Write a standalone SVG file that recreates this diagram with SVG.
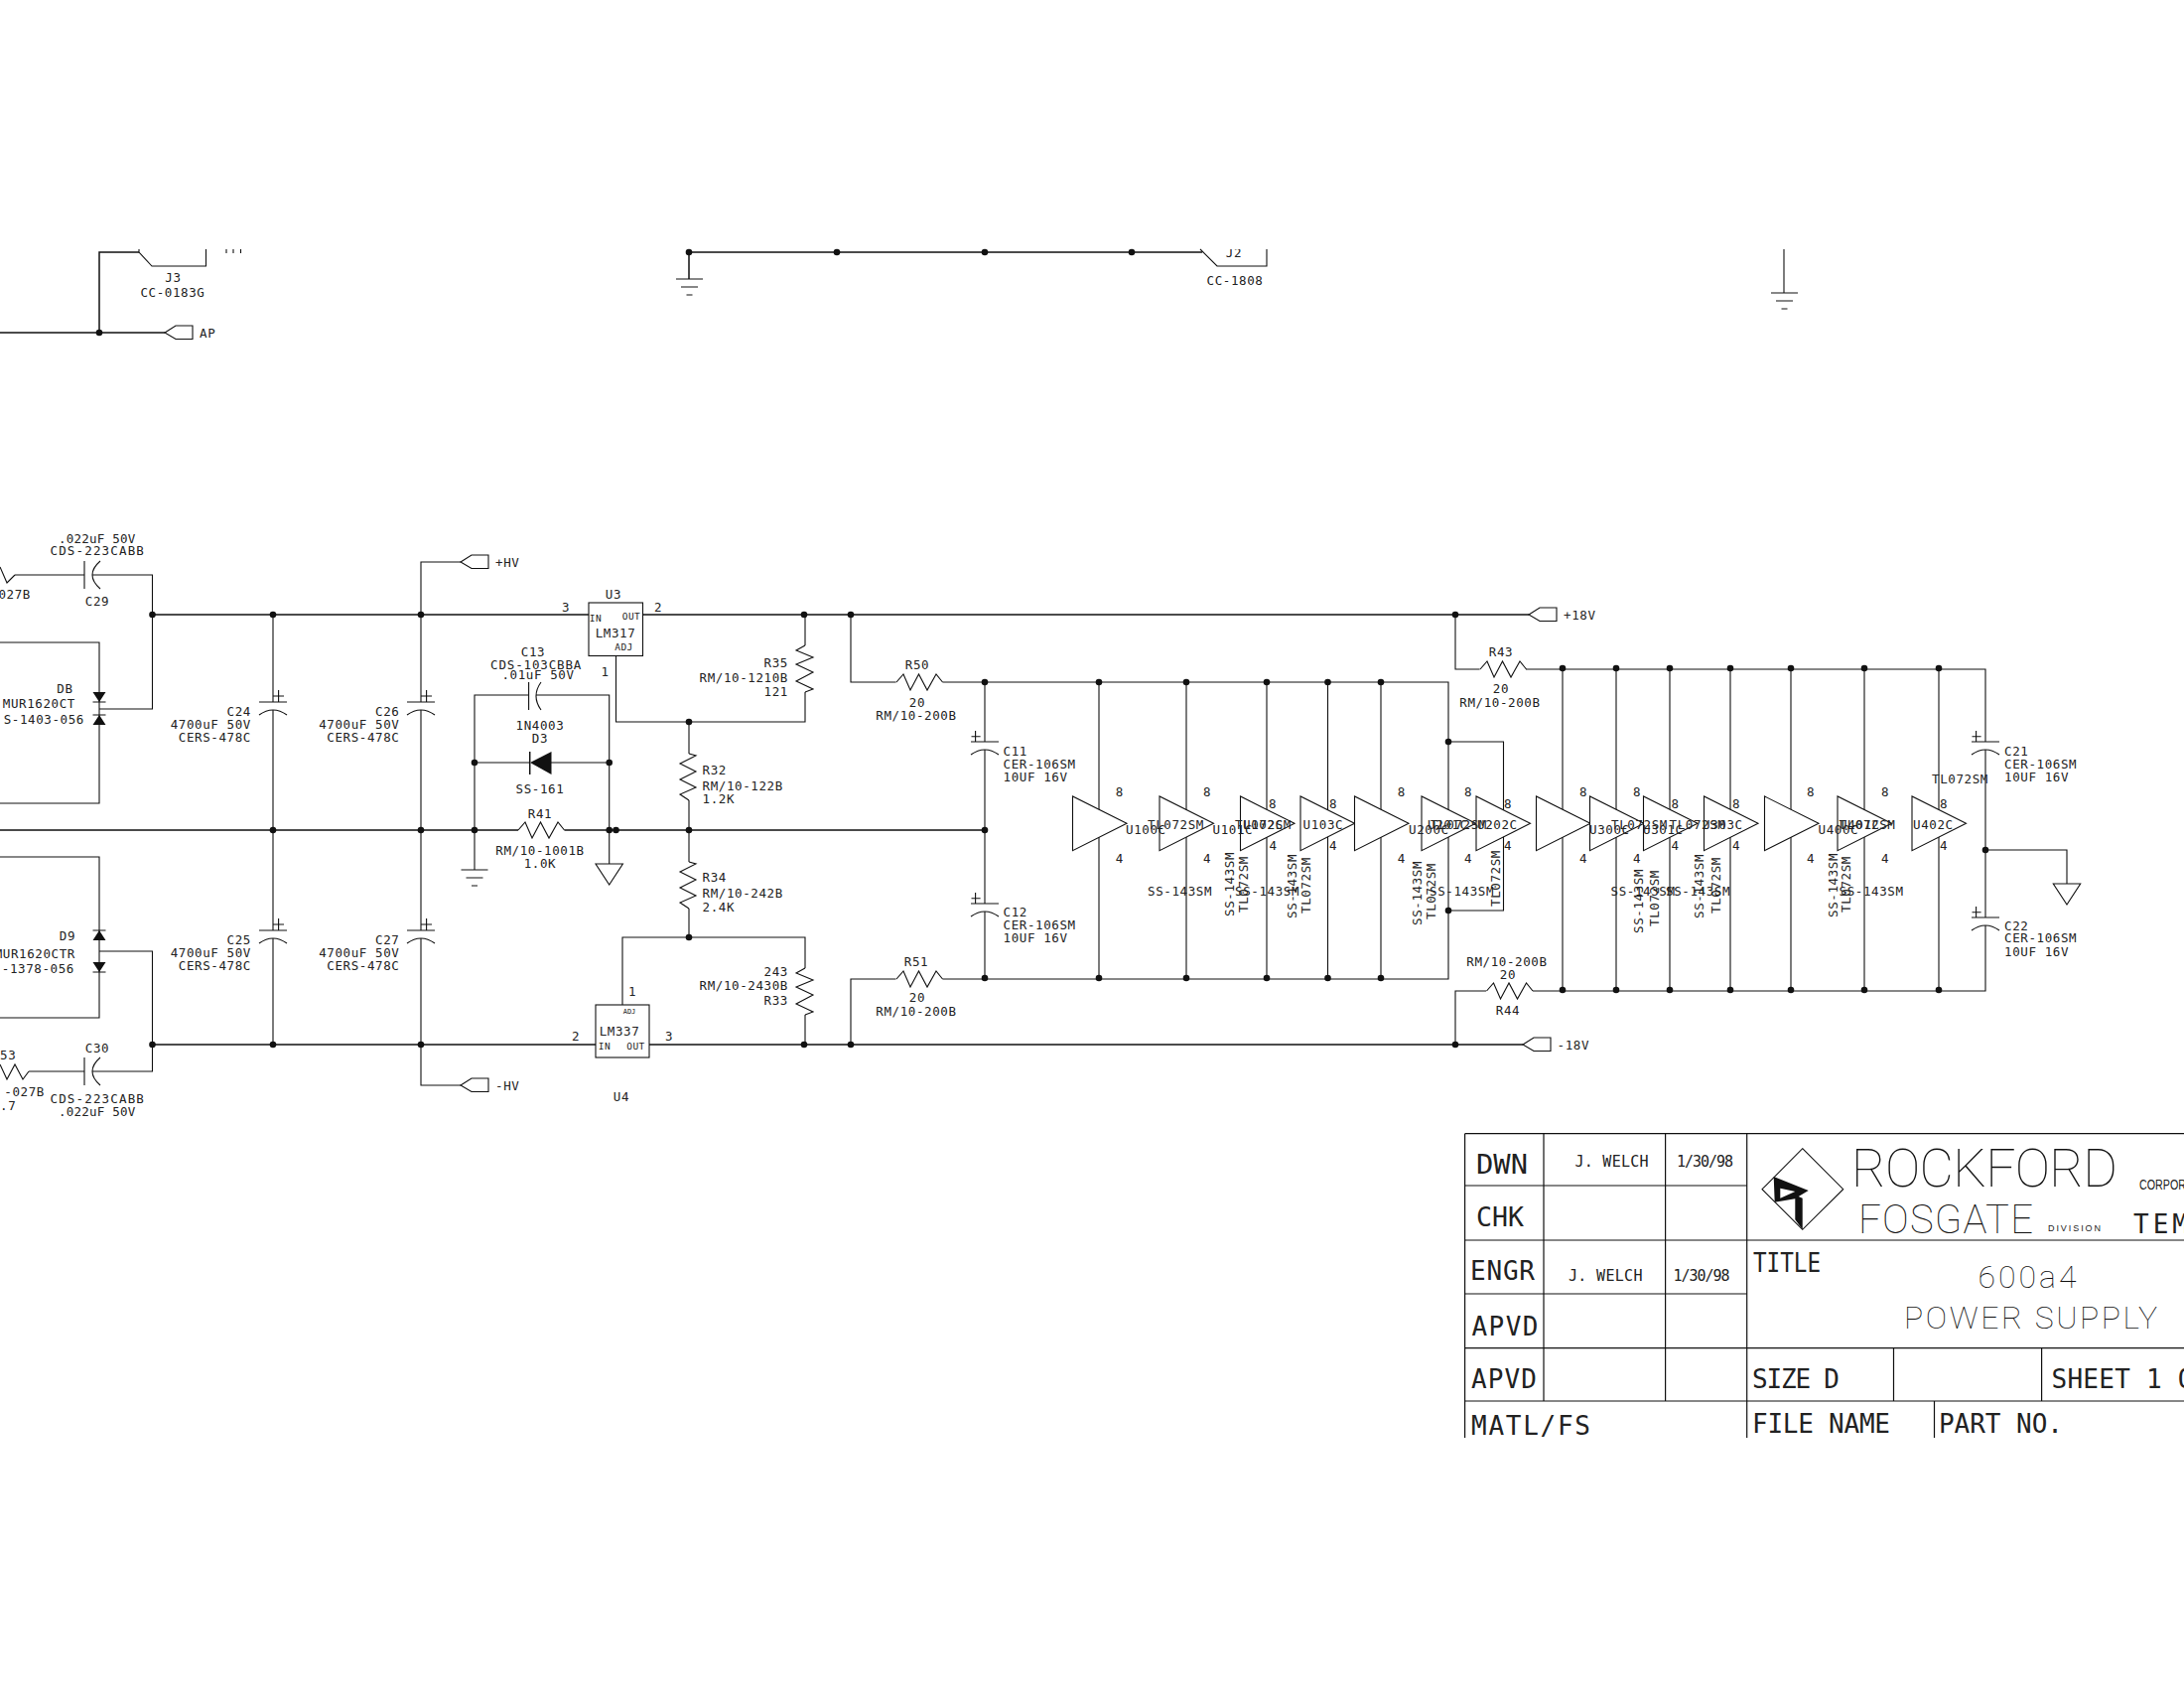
<svg xmlns="http://www.w3.org/2000/svg" width="2200" height="1700" viewBox="0 0 2200 1700">
<style>
text{font-family:"DejaVu Sans Mono","Liberation Mono",monospace;fill:#222}
.l{font-size:12.5px;letter-spacing:.6px}
.m{text-anchor:middle}
.e{text-anchor:end}
.p{font-size:9.5px;letter-spacing:.5px}
.t{font-size:7px}
.b{font-size:26px}
.s{font-size:15px}
.d{font-size:9px;font-family:"Liberation Sans",sans-serif}
.h{font-family:Roboto,"Liberation Sans",sans-serif;font-weight:100;fill:#111}
.w{fill:none;stroke:#111;stroke-width:1.5}
.n{fill:none;stroke:#111;stroke-width:1.1}
.o{fill:#fff;stroke:#111;stroke-width:1.1}
.k{fill:#111;stroke:none}
.f{fill:none;stroke:#111;stroke-width:1.2}
</style>
<defs>
<clipPath id="top"><rect x="0" y="251" width="2200" height="1449"/></clipPath>
<clipPath id="bot"><rect x="0" y="1100" width="2200" height="348"/></clipPath>
<circle id="dot" class="k" r="3.3"/>
<polyline id="rh" class="n" points="0,0 7,-8 14,8 22.5,-8 31,8 40,-8 46.5,0"/>
<polyline id="rv" class="n" points="0,0 7,2 -9,10 7,18 -9,26 7,34 -9,41 0,47"/>
<polyline id="rw" class="n" points="0,0 -9,5 8,12 -9,19 8,27 -9,36 8,44 0,47"/>
<path id="capr" class="n" d="M-14,0H14M0,-6H11M5.6,-12V0M-14,13Q0,3 14,13"/>
<path id="capl" class="n" d="M-14,0H14M-13.5,-5.3H-4.4M-9.4,-11V0M-14,13Q0,3 14,13"/>
<polygon id="off" class="n" points="0,0 11,-7 28,-7 28,6.5 11,6.5"/>
<path id="gb" class="n" d="M-13.5,0H13.5M-8.5,8H8.5M-3,16H3"/>
<polygon id="gt" class="n" points="-13.7,0 13.7,0 0,21"/>
<polygon id="op" class="o" points="0,0 0,54.7 54.5,27.3"/>
<path id="dn" class="k" d="M-6.5,-5H6.5L0,5ZM-6.5,4.5H6.5V5.5H-6.5Z"/>
<path id="up" class="k" d="M-6.5,5H6.5L0,-5ZM-6.5,-5.5H6.5V-4.5H-6.5Z"/>
</defs>

<g id="connectors">
<path class="w" d="M0,335H166M100,335V254H140M694,254H1211M694,254V281"/>
<path class="n" d="M1797,251V295"/>
<path class="w" d="M153.5,619H593M647,619H1540M0,836H522M568.5,836H992M153.5,1052H600M654,1052H1534"/>
<path class="n" d="M15,579H85M93,579H153.5V714H100M0,647H100V809H0M0,863H100V1025H0M100,958H153.5V1079H93M85,1079H29"/>
<path class="n" d="M275,619V707M275,715V937M275,945V1052M424,619V707M424,715V937M424,945V1052"/>
<path class="n" d="M424,619V566H464M424,1052V1093H464"/>
<path class="n" d="M478,876V700H532.6M540,700H613.7V870M478,768H534M555,768H613.7"/>
<path class="n" d="M620.5,660V727H811V697M811,619V650M694,727V759M694,806V868M694,915V944M627,1012V944H811V975M811,1022V1052"/>
<path class="n" d="M857,619V687H902.6M949.5,687H1459V986H949.5M902.5,986H857V1052M992,687V747M992,755V910M992,918V986"/>
<path class="n" d="M1107,687V986M1195,687V986M1276,687V986M1337.5,687V986M1391,687V986M1459,747H1514.5V917H1459"/>
<path class="n" d="M1466,619V674H1490.6M1537,674H2000V747M2000,755V924M2000,932V998H1544M1497,998H1466V1052"/>
<path class="n" d="M1574,674V998M1628,674V998M1682,674V998M1743,674V998M1804,674V998M1878,674V998M1953,674V998M2000,856H2082V890"/>
<use href="#dot" x="100" y="335"/><use href="#dot" x="694" y="254"/><use href="#dot" x="843" y="254"/><use href="#dot" x="992" y="254"/><use href="#dot" x="1140" y="254"/>
<use href="#dot" x="153.5" y="619"/><use href="#dot" x="275" y="619"/><use href="#dot" x="424" y="619"/><use href="#dot" x="810" y="619"/><use href="#dot" x="857" y="619"/><use href="#dot" x="1466" y="619"/>
<use href="#dot" x="275" y="836"/><use href="#dot" x="424" y="836"/><use href="#dot" x="478" y="836"/><use href="#dot" x="613.7" y="836"/><use href="#dot" x="620.5" y="836"/><use href="#dot" x="694" y="836"/><use href="#dot" x="992" y="836"/>
<use href="#dot" x="153.5" y="1052"/><use href="#dot" x="275" y="1052"/><use href="#dot" x="424" y="1052"/><use href="#dot" x="810" y="1052"/><use href="#dot" x="857" y="1052"/><use href="#dot" x="1466" y="1052"/>
<use href="#dot" x="478" y="768"/><use href="#dot" x="613.7" y="768"/><use href="#dot" x="694" y="727"/><use href="#dot" x="694" y="944"/>
<use href="#dot" x="992" y="687"/><use href="#dot" x="1107" y="687"/><use href="#dot" x="1195" y="687"/><use href="#dot" x="1276" y="687"/><use href="#dot" x="1337.5" y="687"/><use href="#dot" x="1391" y="687"/>
<use href="#dot" x="992" y="985"/><use href="#dot" x="1107" y="985"/><use href="#dot" x="1195" y="985"/><use href="#dot" x="1276" y="985"/><use href="#dot" x="1337.5" y="985"/><use href="#dot" x="1391" y="985"/>
<use href="#dot" x="1459" y="747"/><use href="#dot" x="1459" y="917"/><use href="#dot" x="2000" y="856"/>
<use href="#dot" x="1574" y="673"/><use href="#dot" x="1628" y="673"/><use href="#dot" x="1682" y="673"/><use href="#dot" x="1743" y="673"/><use href="#dot" x="1804" y="673"/><use href="#dot" x="1878" y="673"/><use href="#dot" x="1953" y="673"/>
<use href="#dot" x="1574" y="997"/><use href="#dot" x="1628" y="997"/><use href="#dot" x="1682" y="997"/><use href="#dot" x="1743" y="997"/><use href="#dot" x="1804" y="997"/><use href="#dot" x="1878" y="997"/><use href="#dot" x="1953" y="997"/>
</g>

<g id="J3"><polyline class="n" points="140,251 140,254 153,268 207.5,268 207.5,251"/><path class="n" d="M228,251V255M235,251V255M242.5,251V255"/><text class="l m" x="174.5" y="283.5">J3</text><text class="l m" x="174" y="298.5">CC-0183G</text></g>
<g id="J2"><polyline class="n" points="1209,251 1226,268 1276,268 1276,251"/><text class="l m" x="1243" y="258.5" clip-path="url(#top)">J2</text><text class="l m" x="1244" y="286.5">CC-1808</text></g>
<g id="AP"><use href="#off" x="166" y="335"/><text class="l" x="201" y="339.5">AP</text></g>
<g id="GND1"><use href="#gb" x="694.5" y="281"/></g>
<g id="GND2"><use href="#gb" x="1797.5" y="295"/></g>
<g id="GND3"><use href="#gb" x="478" y="876"/></g>
<g id="GND4"><use href="#gt" x="613.7" y="870"/></g>
<g id="GND5"><use href="#gt" x="2082" y="890"/></g>

<g id="R52"><polyline class="n" points="0,571 7,587 15,579"/><text class="l e" x="31" y="602.5">027B</text></g>
<g id="C29"><path class="n" d="M85,565V593M101,565Q85,579 101,593"/><text class="l m" x="98" y="546.5" textLength="78">.022uF  50V</text><text class="l m" x="98" y="558.5" textLength="95">CDS-223CABB</text><text class="l m" x="98" y="609.5">C29</text></g>
<g id="R53"><polyline class="n" points="0,1072 7,1087 15,1072 23,1087 29,1079"/><text class="l" x="0" y="1066.5">53</text><text class="l e" x="45" y="1103.5">-027B</text><text class="l" x="0" y="1117.5">.7</text></g>
<g id="C30"><path class="n" d="M85,1065V1093M101,1065Q85,1079 101,1093"/><text class="l m" x="98" y="1059.5">C30</text><text class="l m" x="98" y="1110.5" textLength="95">CDS-223CABB</text><text class="l m" x="98" y="1123.5" textLength="78">.022uF  50V</text></g>
<g id="D8"><use href="#dn" x="100" y="702"/><use href="#up" x="100" y="725"/><text class="l m" x="65.5" y="697.5">DB</text><text class="l e" x="76" y="712.5">MUR1620CT</text><text class="l e" x="85" y="728.5">S-1403-056</text></g>
<g id="D9"><use href="#up" x="100" y="942"/><use href="#dn" x="100" y="974"/><text class="l m" x="68" y="946.5">D9</text><text class="l e" x="76" y="964.5">MUR1620CTR</text><text class="l e" x="75" y="979.5">-1378-056</text></g>

<g id="C24"><use href="#capr" x="275" y="707"/><text class="l e" x="253" y="720.5">C24</text><text class="l e" x="253" y="733.5">4700uF 50V</text><text class="l e" x="253" y="746.5">CERS-478C</text></g>
<g id="C26"><use href="#capr" x="424" y="707"/><text class="l e" x="402.5" y="720.5">C26</text><text class="l e" x="402.5" y="733.5">4700uF 50V</text><text class="l e" x="402.5" y="746.5">CERS-478C</text></g>
<g id="C25"><use href="#capr" x="275" y="937"/><text class="l e" x="253" y="950.5">C25</text><text class="l e" x="253" y="963.5">4700uF 50V</text><text class="l e" x="253" y="976.5">CERS-478C</text></g>
<g id="C27"><use href="#capr" x="424" y="937"/><text class="l e" x="402.5" y="950.5">C27</text><text class="l e" x="402.5" y="963.5">4700uF 50V</text><text class="l e" x="402.5" y="976.5">CERS-478C</text></g>
<g id="HVP"><use href="#off" x="464" y="566"/><text class="l" x="499" y="570.5">+HV</text></g>
<g id="HVN"><use href="#off" x="464" y="1093"/><text class="l" x="499" y="1097.5">-HV</text></g>

<g id="U3"><rect class="n" x="593" y="607" width="54.5" height="53.5"/><text class="l m" x="618" y="602.5">U3</text><text class="l m" x="570" y="615.5">3</text><text class="l m" x="663" y="615.5">2</text><text class="l m" x="609.5" y="680.5">1</text><text class="p m" x="600" y="625.5">IN</text><text class="p m" x="636" y="623.5">OUT</text><text class="l m" x="620" y="641.5">LM317</text><text class="p m" x="628.5" y="654.5">ADJ</text></g>
<g id="U4"><rect class="n" x="600" y="1012" width="54" height="53"/><text class="l m" x="626" y="1108.5">U4</text><text class="l m" x="637" y="1002.5">1</text><text class="l m" x="580" y="1047.5">2</text><text class="l m" x="674" y="1047.5">3</text><text class="t m" x="634" y="1020.5">ADJ</text><text class="l m" x="624" y="1042.5">LM337</text><text class="p m" x="609" y="1056.5">IN</text><text class="p m" x="640.5" y="1056.5">OUT</text></g>
<g id="C13"><path class="n" d="M532.6,687V715M545,687Q535,701 545,715"/><text class="l m" x="537" y="660.5">C13</text><text class="l m" x="540" y="673.5" textLength="92">CDS-103CBBA</text><text class="l m" x="542" y="683.5">.01uF  50V</text></g>
<g id="D3"><polygon class="k" points="534,768 555.5,757 555.5,780"/><path class="w" d="M533.7,757V780"/><text class="l m" x="544" y="734.5">1N4003</text><text class="l m" x="544" y="747.5">D3</text><text class="l m" x="544" y="798.5">SS-161</text></g>
<g id="R41"><use href="#rh" x="522" y="836"/><text class="l m" x="544" y="823.5">R41</text><text class="l m" x="544" y="860.5">RM/10-1001B</text><text class="l m" x="544" y="873.5">1.0K</text></g>
<g id="R35"><use href="#rw" x="811" y="650"/><text class="l e" x="794" y="671.5">R35</text><text class="l e" x="794" y="686.5">RM/10-1210B</text><text class="l e" x="794" y="700.5">121</text></g>
<g id="R32"><use href="#rv" x="694" y="759"/><text class="l" x="707.5" y="779.5">R32</text><text class="l" x="707.5" y="795.5">RM/10-122B</text><text class="l" x="707.5" y="808.5">1.2K</text></g>
<g id="R34"><use href="#rv" x="694" y="868"/><text class="l" x="707.5" y="887.5">R34</text><text class="l" x="707.5" y="903.5">RM/10-242B</text><text class="l" x="707.5" y="917.5">2.4K</text></g>
<g id="R33"><use href="#rw" x="811" y="975"/><text class="l e" x="794" y="982.5">243</text><text class="l e" x="794" y="996.5">RM/10-2430B</text><text class="l e" x="794" y="1011.5">R33</text></g>
<g id="R50"><use href="#rh" x="903" y="687"/><text class="l m" x="924" y="673.5">R50</text><text class="l m" x="924" y="711.5">20</text><text class="l m" x="923" y="724.5">RM/10-200B</text></g>
<g id="R51"><use href="#rh" x="903" y="986"/><text class="l m" x="923" y="972.5">R51</text><text class="l m" x="924" y="1008.5">20</text><text class="l m" x="923" y="1022.5">RM/10-200B</text></g>
<g id="R43"><use href="#rh" x="1491" y="674"/><text class="l m" x="1512" y="660.5">R43</text><text class="l m" x="1512" y="697.5">20</text><text class="l m" x="1511" y="711.5">RM/10-200B</text></g>
<g id="R44"><use href="#rh" x="1497.5" y="998"/><text class="l m" x="1518" y="972.5">RM/10-200B</text><text class="l m" x="1519" y="985.5">20</text><text class="l m" x="1519" y="1021.5">R44</text></g>
<g id="C11"><use href="#capl" x="992" y="747"/><text class="l" x="1010.5" y="760.5">C11</text><text class="l" x="1010.5" y="773.5">CER-106SM</text><text class="l" x="1010.5" y="786.5">10UF  16V</text></g>
<g id="C12"><use href="#capl" x="992" y="910"/><text class="l" x="1010.5" y="922.5">C12</text><text class="l" x="1010.5" y="935.5">CER-106SM</text><text class="l" x="1010.5" y="949">10UF  16V</text></g>
<g id="C21"><use href="#capl" x="2000" y="747"/><text class="l" x="2019" y="760.5">C21</text><text class="l" x="2019" y="773.5">CER-106SM</text><text class="l" x="2019" y="786.5">10UF  16V</text></g>
<g id="C22"><use href="#capl" x="2000" y="924"/><text class="l" x="2019" y="936.5">C22</text><text class="l" x="2019" y="949">CER-106SM</text><text class="l" x="2019" y="962.5">10UF  16V</text></g>
<g id="P18"><use href="#off" x="1540" y="619"/><text class="l" x="1575" y="623.5">+18V</text></g>
<g id="N18"><use href="#off" x="1534" y="1052"/><text class="l" x="1568.5" y="1056.5">-18V</text></g>

<g id="U100"><use href="#op" x="1080.5" y="802"/></g>
<g id="U101"><use href="#op" x="1168" y="802"/></g>
<g id="U102"><use href="#op" x="1249.5" y="802"/></g>
<g id="U103"><use href="#op" x="1310" y="802"/></g>
<g id="U200"><use href="#op" x="1364.5" y="802"/></g>
<g id="U201"><use href="#op" x="1432" y="802"/></g>
<g id="U202"><use href="#op" x="1487" y="802"/></g>
<g id="U300"><use href="#op" x="1547.5" y="802"/></g>
<g id="U301"><use href="#op" x="1601.5" y="802"/></g>
<g id="U302"><use href="#op" x="1655.5" y="802"/></g>
<g id="U303"><use href="#op" x="1716.5" y="802"/></g>
<g id="U400"><use href="#op" x="1777.5" y="802"/></g>
<g id="U401"><use href="#op" x="1851" y="802"/></g>
<g id="U402"><use href="#op" x="1926" y="802"/></g>

<g id="U100-labels"><text class="l m" x="1127.7" y="801.5">8</text><text class="l m" x="1127.7" y="868.5">4</text><text class="l" x="1134" y="839.5">U100C</text></g>
<g id="U101-labels"><text class="l m" x="1216" y="801.5">8</text><text class="l m" x="1216" y="868.5">4</text><text class="l" x="1156" y="835">TL072SM</text><text class="l" x="1221.5" y="839.5">U101C</text><text class="l" x="1156" y="901.5">SS-143SM</text></g>
<g id="U102-labels"><text class="l m" x="1282" y="813.5">8</text><text class="l m" x="1282.5" y="856">4</text><text class="l" x="1244" y="835">TL072SM</text><text class="l" x="1252" y="835">U102C</text><text class="l" x="1244" y="901.5">SS-143SM</text><text class="l" transform="translate(1242.5,923) rotate(-90)">SS-143SM</text><text class="l" transform="translate(1256.5,919) rotate(-90)">TL072SM</text></g>
<g id="U103-labels"><text class="l m" x="1343" y="813.5">8</text><text class="l m" x="1343" y="856">4</text><text class="l" x="1312.5" y="835">U103C</text><text class="l" transform="translate(1306,925) rotate(-90)">SS-143SM</text><text class="l" transform="translate(1320,920) rotate(-90)">TL072SM</text></g>
<g id="U200-labels"><text class="l m" x="1411.7" y="801.5">8</text><text class="l m" x="1411.7" y="868.5">4</text><text class="l" x="1419" y="839.5">U200C</text><text class="l" transform="translate(1431.5,932) rotate(-90)">SS-143SM</text><text class="l" transform="translate(1446,926) rotate(-90)">TL072SM</text></g>
<g id="U201-labels"><text class="l m" x="1479" y="801.5">8</text><text class="l m" x="1479" y="868.5">4</text><text class="l" x="1438" y="835">U201C</text><text class="l" x="1441" y="835">TL072SM</text><text class="l" x="1440" y="901.5">SS-143SM</text></g>
<g id="U202-labels"><text class="l m" x="1519" y="813.5">8</text><text class="l m" x="1519" y="856">4</text><text class="l" x="1488" y="835">U202C</text><text class="l" transform="translate(1510.5,913) rotate(-90)">TL072SM</text></g>
<g id="U300-labels"><text class="l m" x="1595" y="801.5">8</text><text class="l m" x="1595" y="868.5">4</text><text class="l" x="1601" y="839.5">U300C</text></g>
<g id="U301-labels"><text class="l m" x="1649" y="801.5">8</text><text class="l m" x="1649" y="868.5">4</text><text class="l" x="1623" y="835">TL072SM</text><text class="l" x="1655" y="839.5">U301C</text><text class="l" x="1622.5" y="901.5">SS-143SM</text><text class="l" transform="translate(1655,940) rotate(-90)">SS-143SM</text><text class="l" transform="translate(1670.5,933) rotate(-90)">TL072SM</text></g>
<g id="U302-labels"><text class="l m" x="1687.5" y="813.5">8</text><text class="l m" x="1687.5" y="856">4</text><text class="l" x="1681.5" y="835">TL072SM</text><text class="l" x="1678" y="901.5">SS-143SM</text></g>
<g id="U303-labels"><text class="l m" x="1749" y="813.5">8</text><text class="l m" x="1749" y="856">4</text><text class="l" x="1715" y="835">U303C</text><text class="l" transform="translate(1716,925) rotate(-90)">SS-143SM</text><text class="l" transform="translate(1732.5,920) rotate(-90)">TL072SM</text></g>
<g id="U400-labels"><text class="l m" x="1824" y="801.5">8</text><text class="l m" x="1824" y="868.5">4</text><text class="l" x="1831.5" y="839.5">U400C</text></g>
<g id="U401-labels"><text class="l m" x="1899" y="801.5">8</text><text class="l m" x="1899" y="868.5">4</text><text class="l" x="1852.5" y="835">TL072SM</text><text class="l" x="1853" y="835">U401C</text><text class="l" x="1852.5" y="901.5">SS-143SM</text><text class="l" transform="translate(1850.5,924) rotate(-90)">SS-143SM</text><text class="l" transform="translate(1863.5,919) rotate(-90)">TL072SM</text></g>
<g id="U402-labels"><text class="l m" x="1958" y="813.5">8</text><text class="l m" x="1958" y="856">4</text><text class="l" x="1927" y="835">U402C</text><text class="l" x="1946" y="788.5">TL072SM</text></g>

<g id="title-block" clip-path="url(#bot)">
<path class="f" d="M1475.6,1141.7H2200M1475.6,1194H1759.7M1475.6,1249H2200M1475.6,1303H1759.7M1475.6,1357.7H2200M1475.6,1411H2200"/>
<path class="f" d="M1475.6,1141.7V1448M1555,1141.7V1411M1677.6,1141.7V1411M1759.7,1141.7V1448M1907.5,1357.7V1411M2056.6,1357.7V1411M1948.5,1411V1448"/>
<text class="b" x="1487" y="1181.5" textLength="52" lengthAdjust="spacingAndGlyphs">DWN</text>
<text class="b" x="1487" y="1235" textLength="48" lengthAdjust="spacingAndGlyphs">CHK</text>
<text class="b" x="1481" y="1289" textLength="65">ENGR</text>
<text class="b" x="1482.5" y="1345" textLength="67">APVD</text>
<text class="b" x="1482" y="1398" textLength="66">APVD</text>
<text class="b" x="1482" y="1445" textLength="120">MATL/FS</text>
<text class="s" x="1586.5" y="1175" textLength="74">J. WELCH</text>
<text class="s" x="1689" y="1175" textLength="57">1/30/98</text>
<text class="s" x="1580" y="1290" textLength="74.5">J. WELCH</text>
<text class="s" x="1685.5" y="1290" textLength="57">1/30/98</text>
<text class="b" x="1766" y="1281" textLength="68" lengthAdjust="spacingAndGlyphs">TITLE</text>
<text class="b" x="1765" y="1398" textLength="88">SIZE D</text>
<text class="b" x="1765" y="1443" textLength="139">FILE NAME</text>
<text class="b" x="1953" y="1443" textLength="125">PART NO.</text>
<text class="b" x="2066.5" y="1398" textLength="143">SHEET 1 O</text>
<text class="b" x="2149" y="1242" textLength="55">TEM</text>
<g id="logo"><polygon class="n" points="1815.7,1156.7 1856.7,1197.7 1815.7,1238.3 1775,1197.7"/><path class="k" fill-rule="evenodd" d="M1786.7,1185L1821.7,1199L1811.7,1205L1815.7,1206.7V1238.3L1808.3,1228.3V1207.3L1787.7,1210.7ZM1793.3,1196.7L1808.3,1200L1793.3,1206.7Z"/></g>
<text class="h" x="1865" y="1195" font-size="53" textLength="268">ROCKFORD</text>
<text class="h" x="1872" y="1241.5" font-size="40" textLength="176">FOSGATE</text>
<text class="d" x="2063" y="1240" textLength="53">DIVISION</text>
<text class="d" x="2155" y="1198" style="font-size:14px" textLength="47" lengthAdjust="spacingAndGlyphs">CORPOR</text>
<text class="h" x="1992.5" y="1297" font-size="32" textLength="99">600a4</text>
<text class="h" x="1918" y="1338" font-size="32" textLength="255">POWER SUPPLY</text>
</g>
</svg>
